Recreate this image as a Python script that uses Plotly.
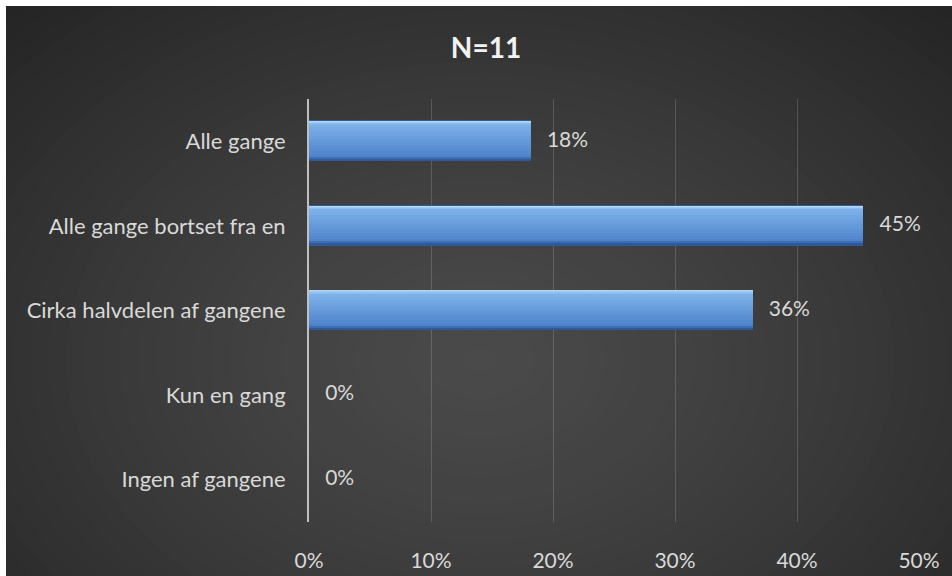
import plotly.graph_objects as go

categories = ["Alle gange", "Alle gange bortset fra en", "Cirka halvdelen af gangene", "Kun en gang", "Ingen af gangene"]
values = [0.1818, 0.4545, 0.3636, 0.0, 0.0]
labels = ["18%", "45%", "36%", "0%", "0%"]
x_ticks = [0, 0.1, 0.2, 0.3, 0.4, 0.5]
x_ticklabels = ["0%", "10%", "20%", "30%", "40%", "50%"]

W, H = 952, 576
ML, MT = 309, 99
MR = W - 919
MB = H - 522
PW, PH = W - ML - MR, H - MT - MB

def px_x(p):  # page px -> paper
    return (p - ML) / PW

def px_y(p):
    return (H - MB - p) / PH

FONT = "Lato, Open Sans, sans-serif"

fig = go.Figure()

BW = 0.47
half = BW / 2
unit = BW / 40.0
fig.add_trace(go.Bar(x=values, y=categories, orientation="h", width=BW, offset=-half,
                     marker=dict(color="#4f86cc", line=dict(color="#2f5b97", width=1)),
                     hoverinfo="skip", showlegend=False))

def lerp(a, b, t):
    return tuple(int(round(a[i] + (b[i] - a[i]) * t)) for i in range(3))

bands = [(0, 1, (0xb4, 0xd7, 0xf7)), (1, 1, (0xa2, 0xcb, 0xf3)), (2, 1, (0x90, 0xbe, 0xee))]
start, stop, step = 3, 36, 3
c0, c1 = (0x7c, 0xb0, 0xe9), (0x4a, 0x80, 0xc8)
for s in range(start, stop, step):
    t = (s - start) / (stop - start)
    bands.append((s, step, lerp(c0, c1, t)))
bands += [(36, 2, (0x3c, 0x6e, 0xb4)), (38, 2, (0x2f, 0x5a, 0x98))]
for s, h, c in bands:
    fig.add_trace(go.Bar(x=values, y=categories, orientation="h", width=h * unit, offset=-half + s * unit,
                         marker=dict(color="rgb(%d,%d,%d)" % c, line=dict(width=0)),
                         hoverinfo="skip", showlegend=False))

fig.add_trace(go.Scatter(x=values, y=categories, mode="text", text=["\u00a0\u00a0\u00a0" + t for t in labels],
                         textposition="middle right", cliponaxis=False,
                         textfont=dict(family=FONT, size=21, color="#d9d9d9"),
                         hoverinfo="skip", showlegend=False))

shapes = []
cx, cy = 480, 360
edge = (0x22, 0x22, 0x22)
center = (0x4a, 0x4a, 0x4a)
N = 40
RX, RY = 720, 520
for k in range(N):
    t = 1 - k / N
    f = t ** 1.3
    col = lerp(center, edge, f)
    rx, ry = RX * t, RY * t
    shapes.append(dict(type="circle", xref="paper", yref="paper",
                       x0=px_x(cx - rx), x1=px_x(cx + rx), y0=px_y(cy - ry), y1=px_y(cy + ry),
                       fillcolor="rgb(%d,%d,%d)" % col, line=dict(width=0), layer="below"))
# white strips at top and left edge
shapes.append(dict(type="rect", xref="paper", yref="paper", x0=px_x(-10), x1=px_x(6), y0=px_y(-10), y1=px_y(600),
                   fillcolor="white", line=dict(width=0), layer="below"))
shapes.append(dict(type="rect", xref="paper", yref="paper", x0=px_x(-10), x1=px_x(970), y0=px_y(-10), y1=px_y(6),
                   fillcolor="white", line=dict(width=0), layer="below"))

fig.update_layout(
    width=W, height=H,
    margin=dict(l=ML, r=MR, t=MT, b=MB, pad=0, autoexpand=False),
    paper_bgcolor="#222222",
    plot_bgcolor="rgba(0,0,0,0)",
    barmode="overlay",
    bargap=0,
    shapes=shapes,
    showlegend=False,
    title=dict(text="<b>N=11</b>", x=486 / W, xanchor="center", y=1 - 48 / H, yanchor="middle",
               yref="container", font=dict(family=FONT, size=28, color="#f2f2f2")),
    xaxis=dict(range=[0, 0.5], tickvals=x_ticks, ticktext=x_ticklabels, showgrid=True,
               gridcolor="rgba(255,255,255,0.16)", gridwidth=1, zeroline=False, showline=False,
               ticks="", ticklabelstandoff=24, automargin=False,
               tickfont=dict(family=FONT, size=21, color="#d9d9d9"), fixedrange=True),
    yaxis=dict(categoryorder="array", categoryarray=categories, autorange="reversed",
               showgrid=False, zeroline=False, showline=True, linecolor="#bfbfbf", linewidth=2,
               ticks="", ticklabelstandoff=17, automargin=False,
               tickfont=dict(family=FONT, size=22, color="#d9d9d9"), fixedrange=True),
)

fig.write_html("out.html", config={"displayModeBar": False},
               post_script="document.body.style.margin='0';document.body.style.overflow='hidden';")
